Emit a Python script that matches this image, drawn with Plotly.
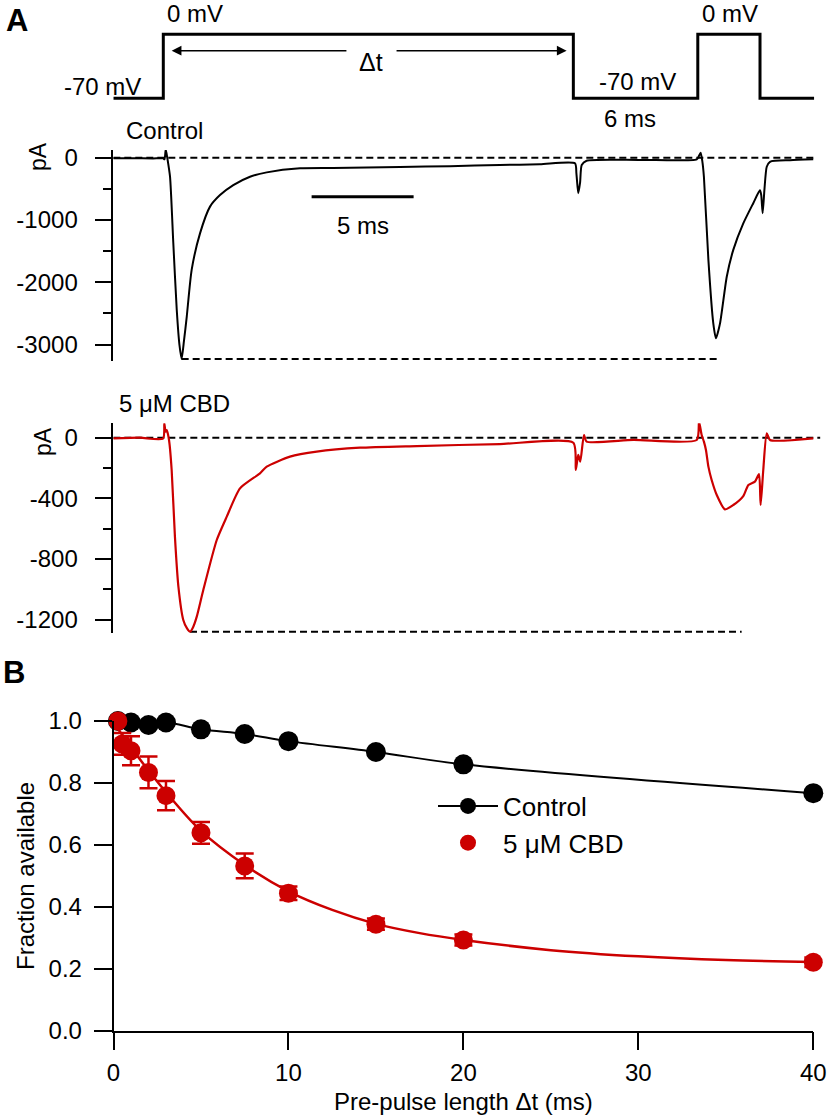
import plotly.graph_objects as go

W, H = 828, 1116
FONT = "Liberation Sans, Arial, sans-serif"
RED = "#CC0000"

# ---------------- Panel A data ----------------
# Voltage protocol (time in ms, membrane potential in mV)
prot_t = [-2.45, 0.0, 0.0, 20.1, 20.1, 26.2, 26.2, 29.25, 29.25, 31.9]
prot_mv = [-70, -70, 0, 0, -70, -70, 0, 0, -70, -70]

# Control current trace (ms, pA)
ctrl_t = [-2.45, -1.5, -0.5, -0.01, 0.06, 0.12, 0.21, 0.33, 0.49, 0.66, 0.79, 0.90,
          1.01, 1.15, 1.39, 1.80, 2.29, 2.78, 3.43, 4.25, 5.07, 6.70, 8.32, 9.97,
          11.60, 14.05, 16.50, 18.46, 20.18, 20.25, 20.34, 20.43, 20.51, 20.75,
          23.37, 26.15, 26.26, 26.34, 26.42, 26.50, 26.72, 26.96, 27.09, 27.29,
          27.62, 27.94, 28.43, 28.92, 29.25, 29.31, 29.38, 29.47, 29.58, 29.74,
          30.72, 31.86]
ctrl_pa = [-10, -8, -12, -10, -25, 135, -30, -305, -1370, -2445, -3000, -3230,
           -2950, -2550, -1800, -1215, -785, -600, -440, -305, -235, -170, -165, -155,
           -150, -135, -117, -105, -90, -250, -570, -400, -117, -48,
           -35, -26, 30, 80, -50, -305, -1640, -2660, -2900, -2660,
           -1910, -1480, -1055, -730, -520, -600, -890, -500, -145, -65,
           -40, -26]

# 5 uM CBD current trace (ms, pA)
cbd_t = [-2.45, -1.14, -0.01, 0.05, 0.11, 0.17, 0.28, 0.41, 0.57, 0.74, 0.98, 1.15,
         1.31, 1.46, 1.64, 1.96, 2.62, 3.11, 3.76, 4.74, 5.07, 6.21, 7.52, 9.64,
         12.42, 16.50, 20.10, 20.22, 20.34, 20.44, 20.62, 20.75, 23.04, 26.15,
         26.26, 26.39, 26.50, 26.60, 26.72, 26.88, 27.13, 27.53, 27.94, 28.43,
         28.68, 29.00, 29.20, 29.28, 29.41, 29.58, 29.74, 31.86]
cbd_pa = [-4, 0, -5, 95, 40, 50, -15, -213, -653, -983, -1203, -1255,
          -1280, -1250, -1181, -1005, -675, -521, -334, -235, -191, -125, -92, -66,
          -55, -42, -33, -213, -114, -158, 18, -26, -15, -15,
          106, 18, -26, -81, -191, -279, -378, -473, -444, -385,
          -312, -290, -240, -444, -213, 29, -15, -4]

# Reference (dashed) levels
ctrl_zero_t = [-2.45, 31.95]
ctrl_peak_t = [0.90, 27.13]
ctrl_peak_pa = -3230
cbd_zero_t = [-2.45, 32.2]
cbd_peak_t = [1.31, 28.35]
cbd_peak_pa = -1280

# Scale bar 5 ms
scalebar_t = [7.27, 12.27]
scalebar_pa = -626

ctrl_ticks = [0, -1000, -2000, -3000]
ctrl_ticktext = ["0", "-1000", "-2000", "-3000"]
ctrl_minor = [-500, -1500, -2500]
cbd_ticks = [0, -400, -800, -1200]
cbd_ticktext = ["0", "-400", "-800", "-1200"]
cbd_minor = [-200, -600, -1000]

# ---------------- Panel B data ----------------
ctrl_x = [0.25, 1, 2, 3, 5, 7.5, 10, 15, 20, 40]
ctrl_y = [1.0, 0.995, 0.987, 0.995, 0.973, 0.958, 0.935, 0.90, 0.86, 0.767]

cbd_x = [0.25, 0.5, 1, 2, 3, 5, 7.5, 10, 15, 20, 40]
cbd_y = [1.0, 0.926, 0.904, 0.834, 0.759, 0.639, 0.532, 0.444, 0.344, 0.293, 0.221]
cbd_err = [0.0, 0.035, 0.047, 0.051, 0.047, 0.035, 0.04, 0.022, 0.018, 0.018, 0.015]

cbd_fit_x = [0.25, 0.5, 1, 2, 3, 5, 7.5, 10, 12.5, 15, 17.5, 20, 25, 30, 35, 40]
cbd_fit_y = [0.975, 0.955, 0.915, 0.84, 0.77, 0.645, 0.535, 0.45, 0.39, 0.345,
             0.315, 0.293, 0.26, 0.24, 0.228, 0.222]

b_xticks = [0, 10, 20, 30, 40]
b_yticks = [0.0, 0.2, 0.4, 0.6, 0.8, 1.0]


def px(x):
    return x / W


def py(y):
    return 1 - y / H


fig = go.Figure()

# protocol
fig.add_trace(go.Scatter(x=prot_t, y=prot_mv, mode="lines", xaxis="x", yaxis="y",
                         line=dict(color="black", width=3), showlegend=False,
                         hoverinfo="skip"))

dash = "7px,4px"
DW = 2
# control
fig.add_trace(go.Scatter(x=ctrl_zero_t, y=[0, 0], mode="lines", xaxis="x", yaxis="y2",
                         line=dict(color="black", width=DW, dash=dash), showlegend=False))
fig.add_trace(go.Scatter(x=ctrl_peak_t, y=[ctrl_peak_pa] * 2, mode="lines", xaxis="x", yaxis="y2",
                         line=dict(color="black", width=DW, dash=dash), showlegend=False))
fig.add_trace(go.Scatter(x=ctrl_t, y=ctrl_pa, mode="lines", xaxis="x", yaxis="y2",
                         line=dict(color="black", width=2, shape="spline", smoothing=0.6),
                         showlegend=False))
fig.add_trace(go.Scatter(x=scalebar_t, y=[scalebar_pa] * 2, mode="lines", xaxis="x", yaxis="y2",
                         line=dict(color="black", width=3), showlegend=False))
# cbd
fig.add_trace(go.Scatter(x=cbd_zero_t, y=[0, 0], mode="lines", xaxis="x", yaxis="y3",
                         line=dict(color="black", width=DW, dash=dash), showlegend=False))
fig.add_trace(go.Scatter(x=cbd_peak_t, y=[cbd_peak_pa] * 2, mode="lines", xaxis="x", yaxis="y3",
                         line=dict(color="black", width=DW, dash=dash), showlegend=False))
fig.add_trace(go.Scatter(x=cbd_t, y=cbd_pa, mode="lines", xaxis="x", yaxis="y3",
                         line=dict(color=RED, width=2.2, shape="spline", smoothing=0.6),
                         showlegend=False))

# Panel B
fig.add_trace(go.Scatter(x=ctrl_x, y=ctrl_y, mode="lines+markers", xaxis="x2", yaxis="y4",
                         name="Control", line=dict(color="black", width=2, shape="spline"),
                         marker=dict(color="black", size=20), cliponaxis=False))
fig.add_trace(go.Scatter(x=cbd_fit_x, y=cbd_fit_y, mode="lines", xaxis="x2", yaxis="y4",
                         line=dict(color=RED, width=2.5, shape="spline"), showlegend=False,
                         cliponaxis=False))
fig.add_trace(go.Scatter(x=cbd_x, y=cbd_y, mode="markers", xaxis="x2", yaxis="y4",
                         name="5 \u03bcM CBD", marker=dict(color=RED, size=19),
                         error_y=dict(type="data", array=cbd_err, color=RED, thickness=2.5, width=9),
                         cliponaxis=False))

tickfont = dict(family=FONT, size=24, color="black")

common_y = dict(showline=True, linecolor="black", linewidth=1.5, ticks="outside",
                ticklen=17, tickwidth=1.5, tickcolor="black", showgrid=False,
                zeroline=False, tickfont=tickfont, tickmode="array", anchor="x",
                ticklabelstandoff=12, automargin=False)

fig.update_layout(
    template="none",
    width=W, height=H, margin=dict(l=0, r=0, t=0, b=0, pad=0, autoexpand=False),
    paper_bgcolor="white", plot_bgcolor="rgba(0,0,0,0)",
    font=dict(family=FONT, color="black"),
    xaxis=dict(domain=[px(113.3), 1.0], range=[-2.451, 32.583], visible=False,
               anchor="y2", automargin=False),
    yaxis=dict(domain=[py(112), py(20)], range=[-85, 15.6], visible=False, anchor="x",
               automargin=False),
    yaxis2=dict(domain=[py(360.8), py(150)], range=[-3260, 124], tickvals=ctrl_ticks,
                ticktext=ctrl_ticktext,
                minor=dict(tickvals=ctrl_minor, ticklen=9, ticks="outside",
                           tickwidth=1.5, tickcolor="black", showgrid=False),
                **common_y),
    yaxis3=dict(domain=[py(633.2), py(423.3)], range=[-1290, 95], tickvals=cbd_ticks,
                ticktext=cbd_ticktext,
                minor=dict(tickvals=cbd_minor, ticklen=9, ticks="outside",
                           tickwidth=1.5, tickcolor="black", showgrid=False),
                **common_y),
    xaxis2=dict(domain=[px(113.5), px(813.3)], range=[0, 40], anchor="y4",
                showline=True, linecolor="black", linewidth=1.5, ticks="outside",
                ticklen=18, tickwidth=1.5, tickcolor="black", showgrid=False, zeroline=False,
                tickfont=tickfont, tickmode="array", tickvals=b_xticks,
                ticklabelstandoff=2, automargin=False),
    yaxis4=dict(domain=[py(1030.7), py(721)], range=[0, 1.0], anchor="x2",
                showline=True, linecolor="black", linewidth=1.5, ticks="outside",
                ticklen=18, tickwidth=1.5, tickcolor="black", showgrid=False, zeroline=False,
                tickfont=tickfont, tickmode="array", tickvals=b_yticks, tickformat=".1f",
                ticklabelstandoff=7, automargin=False),
    legend=dict(x=px(433), y=py(782.5), xanchor="left", yanchor="top",
                font=dict(family=FONT, size=26, color="black"),
                bgcolor="rgba(0,0,0,0)", borderwidth=0, tracegroupgap=0, itemwidth=60),
    showlegend=True,
)


def ann(text, x, y, size=24, **kw):
    fig.add_annotation(text=text, x=px(x), y=py(y), xref="paper", yref="paper",
                       showarrow=False, font=dict(family=FONT, size=size, color="black"),
                       xanchor="center", yanchor="middle", **kw)


ann("<b>A</b>", 16.5, 21, size=31)
ann("<b>B</b>", 14, 672, size=31)
ann("0 mV", 195, 14)
ann("-70 mV", 102.5, 86)
ann("\u0394t", 371, 62, size=25)
ann("-70 mV", 637.5, 81)
ann("0 mV", 729.5, 14)
ann("6 ms", 630, 119)
ann("Control", 164, 131)
ann("5 \u03bcM CBD", 174, 403)
ann("pA", 38, 157, size=23, textangle=-90)
ann("pA", 43, 442, size=23, textangle=-90)
ann("Fraction available", 25, 876, textangle=-90)
ann("Pre-pulse length \u0394t (ms)", 463, 1101)

# 5 ms scale bar label
fig.add_annotation(text="5 ms", x=sum(scalebar_t) / 2, y=-1080, xref="x", yref="y2",
                   showarrow=False, font=dict(family=FONT, size=24, color="black"))

# Delta t arrows on protocol axis
arrow_mv = -17.9
for tip, tail in [(0.41, 9.05), (19.77, 11.36)]:
    fig.add_annotation(x=tip, y=arrow_mv, ax=tail, ay=arrow_mv, xref="x", yref="y",
                       axref="x", ayref="y", text="", showarrow=True, arrowhead=2,
                       arrowsize=1.3, arrowwidth=1.5, arrowcolor="black", standoff=0,
                       startstandoff=0)

fig.write_html("out.html", config={"displayModeBar": False},
               post_script="document.body.style.margin='0px';")
